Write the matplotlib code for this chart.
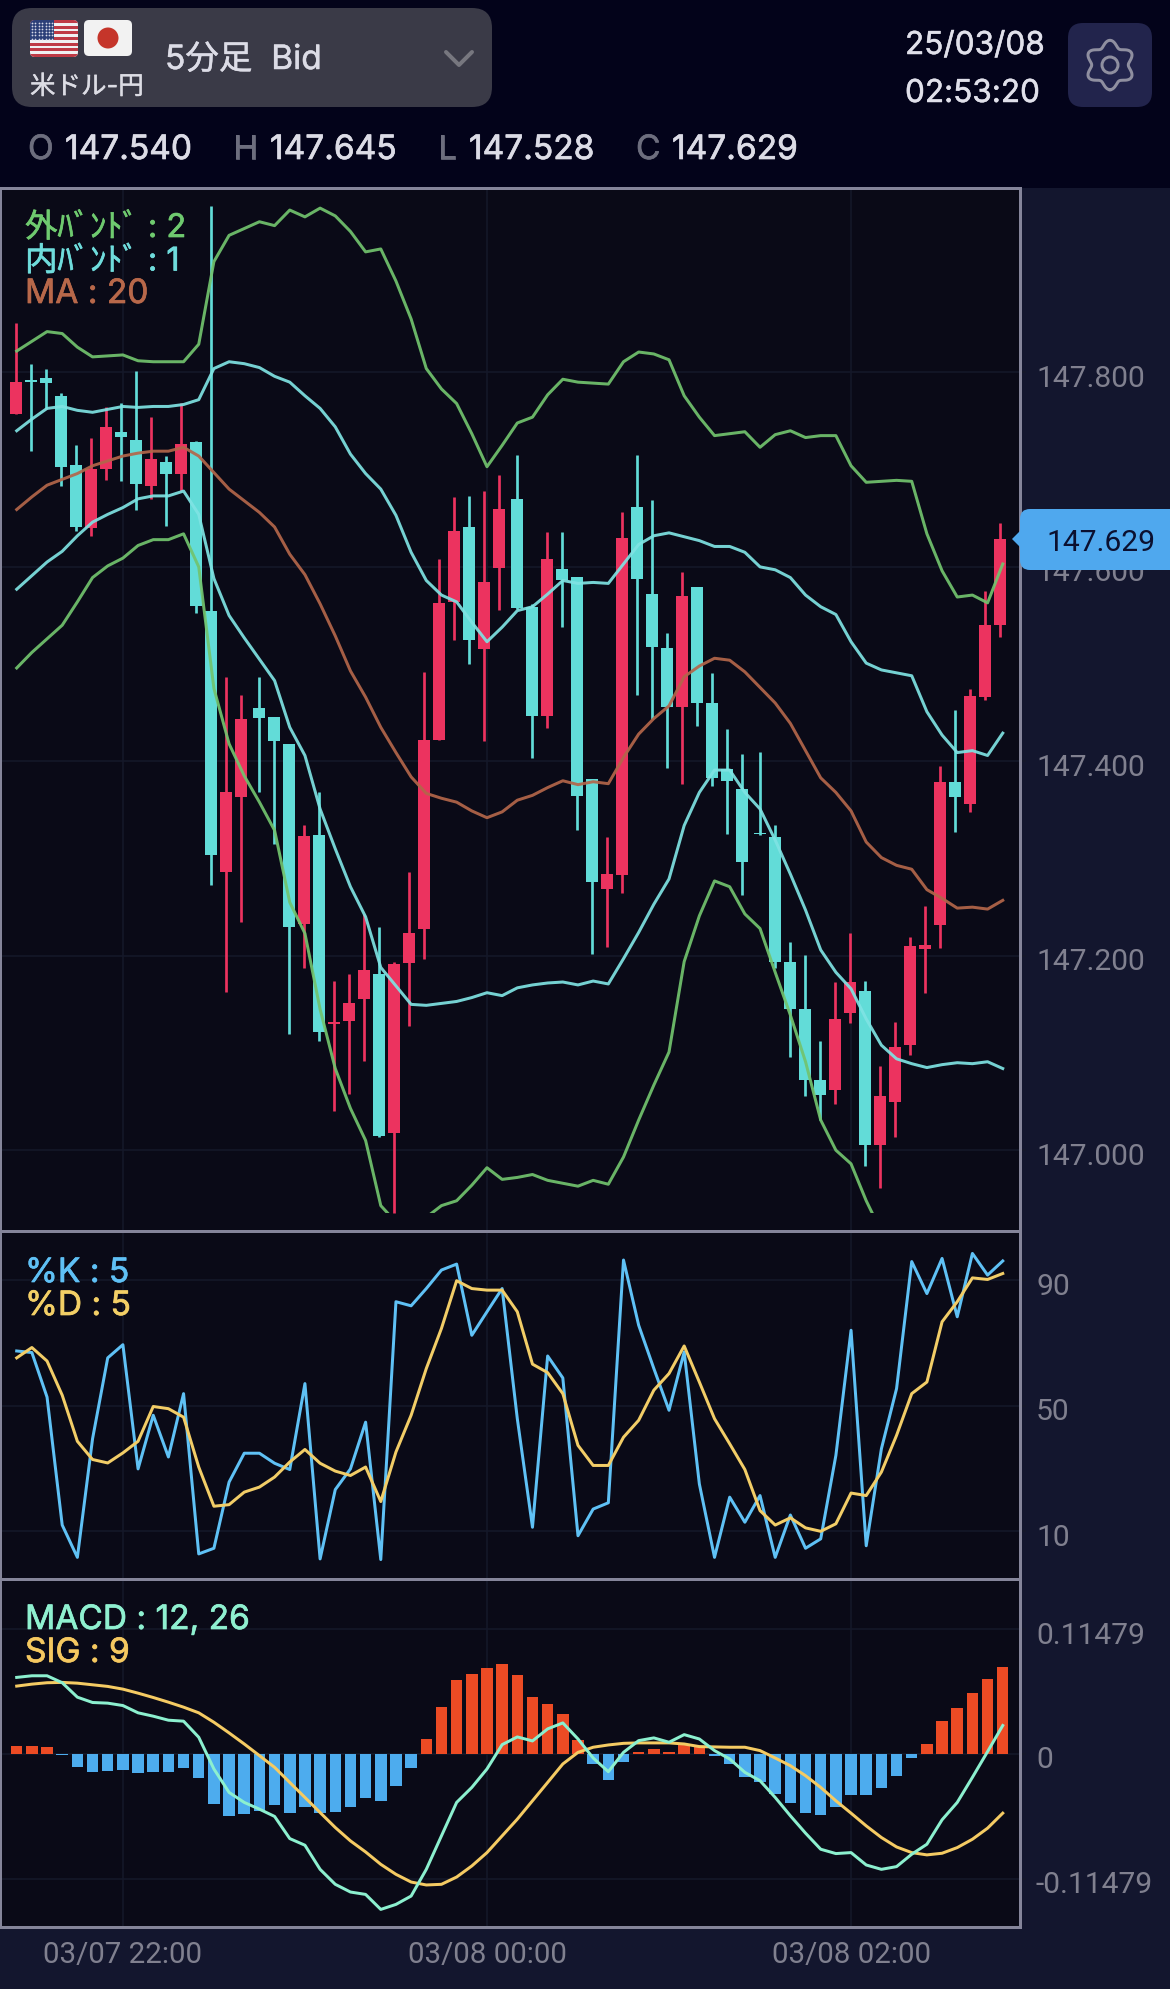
"""
plot.py

USD/JPY 5 minute chart: candles with Bollinger bands, stochastics and MACD.
"""

import numpy as np
import matplotlib
matplotlib.use("Agg")
import matplotlib.pyplot as plt
import matplotlib.patheffects as pe
from matplotlib.patches import Circle, FancyBboxPatch, Polygon, Rectangle
from matplotlib.transforms import ScaledTranslation

opens = [
    147.757, 147.792, 147.794, 147.776, 147.705, 147.640, 147.701, 147.739, 147.731, 147.683, 147.708,
    147.696, 147.728, 147.555, 147.286, 147.363, 147.455, 147.446, 147.418, 147.233, 147.324, 147.130,
    147.133, 147.156, 147.181, 147.018, 147.193, 147.228, 147.422, 147.564, 147.641, 147.516, 147.599,
    147.670, 147.559, 147.447, 147.598, 147.590, 147.382, 147.269, 147.283, 147.662, 147.572, 147.517,
    147.456, 147.579, 147.460, 147.392, 147.372, 147.326, 147.322, 147.194, 147.145, 147.072, 147.062,
    147.141, 147.164, 147.005, 147.050, 147.108, 147.207, 147.232, 147.379, 147.356, 147.466, 147.540,
]
highs = [
    147.851, 147.809, 147.804, 147.779, 147.725, 147.733, 147.764, 147.769, 147.801, 147.754, 147.714,
    147.769, 147.729, 147.971, 147.487, 147.468, 147.487, 147.446, 147.418, 147.334, 147.368, 147.174,
    147.181, 147.243, 147.230, 147.194, 147.286, 147.492, 147.608, 147.672, 147.673, 147.678, 147.694,
    147.715, 147.562, 147.636, 147.636, 147.590, 147.382, 147.322, 147.656, 147.715, 147.669, 147.532,
    147.595, 147.579, 147.491, 147.433, 147.408, 147.410, 147.334, 147.214, 147.201, 147.112, 147.173,
    147.223, 147.174, 147.087, 147.132, 147.219, 147.251, 147.395, 147.453, 147.474, 147.575, 147.645,
]
lows = [
    147.757, 147.719, 147.762, 147.683, 147.637, 147.632, 147.689, 147.688, 147.658, 147.670, 147.642,
    147.678, 147.553, 147.273, 147.163, 147.235, 147.368, 147.315, 147.120, 147.187, 147.112, 147.040,
    147.058, 147.092, 147.014, 146.935, 147.128, 147.197, 147.422, 147.525, 147.500, 147.421, 147.556,
    147.557, 147.403, 147.434, 147.538, 147.329, 147.202, 147.209, 147.265, 147.468, 147.444, 147.393,
    147.377, 147.436, 147.375, 147.325, 147.262, 147.324, 147.187, 147.096, 147.056, 147.031, 147.048,
    147.131, 146.984, 146.961, 147.014, 147.098, 147.162, 147.208, 147.327, 147.348, 147.463, 147.528,
]
closes = [
    147.790, 147.790, 147.789, 147.703, 147.641, 147.701, 147.744, 147.734, 147.685, 147.711, 147.696,
    147.726, 147.560, 147.304, 147.368, 147.444, 147.445, 147.421, 147.230, 147.323, 147.122, 147.132,
    147.151, 147.185, 147.015, 147.192, 147.223, 147.422, 147.563, 147.637, 147.525, 147.584, 147.660,
    147.558, 147.447, 147.608, 147.586, 147.364, 147.276, 147.284, 147.630, 147.588, 147.518, 147.456,
    147.570, 147.460, 147.383, 147.380, 147.296, 147.325, 147.194, 147.145, 147.072, 147.057, 147.135,
    147.173, 147.005, 147.056, 147.106, 147.210, 147.211, 147.379, 147.363, 147.467, 147.540, 147.629,
]

ma_20 = [
    147.659, 147.672, 147.684, 147.690, 147.696, 147.704, 147.709, 147.714, 147.717, 147.719, 147.719,
    147.723, 147.714, 147.697, 147.680, 147.668, 147.656, 147.641, 147.613, 147.592, 147.562, 147.529,
    147.493, 147.466, 147.435, 147.409, 147.384, 147.367, 147.362, 147.358, 147.349, 147.342, 147.348,
    147.360, 147.365, 147.373, 147.380, 147.376, 147.379, 147.377, 147.404, 147.428, 147.444, 147.457,
    147.487, 147.498, 147.506, 147.504, 147.492, 147.476, 147.460, 147.439, 147.411, 147.383, 147.368,
    147.349, 147.317, 147.301, 147.293, 147.289, 147.268, 147.259, 147.249, 147.250, 147.248, 147.257,
]
inner_upper = [
    147.740, 147.752, 147.763, 147.765, 147.761, 147.759, 147.762, 147.765, 147.764, 147.765, 147.765,
    147.767, 147.772, 147.804, 147.811, 147.809, 147.805, 147.796, 147.790, 147.776, 147.763, 147.744,
    147.716, 147.696, 147.680, 147.653, 147.615, 147.586, 147.571, 147.564, 147.543, 147.523, 147.538,
    147.555, 147.559, 147.572, 147.586, 147.583, 147.584, 147.583, 147.603, 147.623, 147.632, 147.635,
    147.631, 147.627, 147.621, 147.621, 147.615, 147.600, 147.597, 147.589, 147.571, 147.559, 147.551,
    147.523, 147.501, 147.494, 147.491, 147.488, 147.451, 147.427, 147.409, 147.411, 147.406, 147.429,
]
inner_lower = [
    147.577, 147.591, 147.605, 147.616, 147.632, 147.646, 147.654, 147.661, 147.670, 147.673, 147.673,
    147.678, 147.654, 147.588, 147.550, 147.527, 147.505, 147.483, 147.435, 147.406, 147.351, 147.310,
    147.271, 147.240, 147.188, 147.169, 147.150, 147.149, 147.151, 147.153, 147.157, 147.162, 147.159,
    147.167, 147.170, 147.172, 147.173, 147.170, 147.174, 147.171, 147.197, 147.224, 147.253, 147.279,
    147.334, 147.368, 147.391, 147.391, 147.368, 147.351, 147.319, 147.284, 147.247, 147.206, 147.183,
    147.166, 147.135, 147.108, 147.094, 147.089, 147.085, 147.088, 147.090, 147.089, 147.091, 147.084,
]
outer_upper = [
    147.822, 147.832, 147.842, 147.840, 147.826, 147.816, 147.817, 147.818, 147.812, 147.811, 147.811,
    147.811, 147.829, 147.914, 147.941, 147.948, 147.955, 147.951, 147.967, 147.960, 147.969, 147.961,
    147.945, 147.924, 147.927, 147.894, 147.855, 147.804, 147.783, 147.768, 147.737, 147.703, 147.725,
    147.748, 147.754, 147.777, 147.793, 147.790, 147.789, 147.788, 147.811, 147.821, 147.819, 147.813,
    147.776, 147.754, 147.735, 147.737, 147.739, 147.723, 147.736, 147.740, 147.733, 147.735, 147.735,
    147.704, 147.687, 147.688, 147.689, 147.688, 147.634, 147.596, 147.569, 147.571, 147.563, 147.603,
]
# runs off the bottom of the chart after the 58th bar
outer_lower = [
    147.496, 147.512, 147.526, 147.540, 147.564, 147.589, 147.601, 147.609, 147.622, 147.628, 147.628,
    147.634, 147.600, 147.475, 147.418, 147.385, 147.358, 147.329, 147.255, 147.223, 147.145, 147.084,
    147.043, 147.010, 146.943, 146.926, 146.921, 146.931, 146.943, 146.948, 146.964, 146.982, 146.970,
    146.972, 146.975, 146.969, 146.966, 146.963, 146.969, 146.965, 146.993, 147.031, 147.067, 147.101,
    147.194, 147.241, 147.277, 147.271, 147.243, 147.228, 147.183, 147.139, 147.091, 147.031, 147.000,
    146.986, 146.948, 146.916,
]

stoch_k = [
    67.4, 66.9, 52.7, 11.9, 1.6, 39.4, 65.2, 69.4, 29.8, 46.9, 33.6,
    53.8, 2.7, 4.5, 25.6, 34.8, 34.8, 31.6, 29.6, 57.0, 1.1, 23.2,
    29.8, 44.7, 0.9, 83.1, 81.8, 87.3, 93.2, 95.1, 72.4, 79.9, 87.3,
    45.8, 11.2, 65.8, 58.8, 8.5, 17.0, 19.0, 96.4, 75.6, 61.8, 48.5,
    67.1, 25.0, 1.6, 20.8, 12.8, 21.3, 1.6, 15.1, 4.5, 7.5, 34.1,
    74.0, 5.3, 36.2, 55.4, 95.9, 85.7, 96.9, 78.3, 98.5, 91.6, 96.1,
]
stoch_d = [
    65.2, 68.5, 64.2, 53.3, 38.6, 32.8, 31.7, 34.9, 38.6, 49.7, 49.0,
    46.3, 30.4, 17.9, 18.4, 22.4, 24.0, 27.2, 32.0, 36.0, 31.6, 29.1,
    27.7, 30.4, 19.4, 35.2, 46.9, 61.8, 74.6, 89.8, 87.3, 86.8, 86.8,
    79.9, 63.2, 60.5, 53.8, 37.3, 30.9, 30.9, 39.9, 45.3, 54.9, 60.2,
    69.0, 57.5, 45.8, 37.8, 29.6, 16.5, 11.9, 14.2, 11.0, 9.9, 12.3,
    22.1, 21.3, 28.8, 40.5, 53.8, 57.5, 76.7, 83.1, 90.7, 90.2, 92.1,
]

macd_line = [
    0.0705, 0.0720, 0.0720, 0.0656, 0.0523, 0.0474, 0.0468, 0.0446, 0.0379, 0.0348, 0.0311,
    0.0302, 0.0154, -0.0138, -0.0354, -0.0446, -0.0508, -0.0575, -0.0779, -0.0840, -0.1062, -0.1200,
    -0.1271, -0.1293, -0.1431, -0.1385, -0.1308, -0.1062, -0.0754, -0.0446, -0.0308, -0.0138, 0.0086,
    0.0157, 0.0120, 0.0231, 0.0286, 0.0138, -0.0037, -0.0163, 0.0015, 0.0123, 0.0148, 0.0108,
    0.0178, 0.0138, 0.0031, -0.0046, -0.0169, -0.0246, -0.0400, -0.0569, -0.0729, -0.0877, -0.0917,
    -0.0908, -0.1022, -0.1062, -0.1037, -0.0923, -0.0831, -0.0606, -0.0446, -0.0215, 0.0022, 0.0262,
]
macd_signal = [
    0.0625, 0.0643, 0.0656, 0.0659, 0.0652, 0.0637, 0.0622, 0.0597, 0.0560, 0.0520, 0.0477,
    0.0431, 0.0379, 0.0292, 0.0194, 0.0092, -0.0015, -0.0123, -0.0262, -0.0400, -0.0539, -0.0677,
    -0.0800, -0.0902, -0.1016, -0.1108, -0.1179, -0.1206, -0.1200, -0.1133, -0.1031, -0.0908, -0.0754,
    -0.0600, -0.0431, -0.0262, -0.0092, 0.0015, 0.0062, 0.0083, 0.0098, 0.0102, 0.0102, 0.0102,
    0.0092, 0.0068, 0.0065, 0.0062, 0.0062, 0.0031, -0.0037, -0.0108, -0.0200, -0.0308, -0.0431,
    -0.0545, -0.0662, -0.0769, -0.0856, -0.0908, -0.0929, -0.0914, -0.0862, -0.0785, -0.0683, -0.0545,
]
macd_hist = [
    0.0077, 0.0077, 0.0062, -0.0009, -0.0123, -0.0163, -0.0154, -0.0151, -0.0178, -0.0169, -0.0163,
    -0.0129, -0.0222, -0.0465, -0.0569, -0.0557, -0.0523, -0.0471, -0.0545, -0.0486, -0.0539, -0.0532,
    -0.0492, -0.0409, -0.0437, -0.0292, -0.0132, 0.0138, 0.0437, 0.0683, 0.0739, 0.0788, 0.0831,
    0.0729, 0.0529, 0.0459, 0.0369, 0.0132, -0.0092, -0.0237, -0.0077, 0.0022, 0.0046, 0.0015,
    0.0083, 0.0068, -0.0015, -0.0095, -0.0215, -0.0262, -0.0369, -0.0452, -0.0539, -0.0563, -0.0486,
    -0.0375, -0.0382, -0.0317, -0.0206, -0.0034, 0.0095, 0.0302, 0.0422, 0.0563, 0.0692, 0.0803,
]

price_ticks = [147.0, 147.2, 147.4, 147.6, 147.8]
stoch_ticks = [10, 50, 90]
macd_ticks = [-0.11479, 0, 0.11479]
macd_tick_labels = ["-0.11479", "0", "0.11479"]
time_ticks = [7, 31, 55]
time_labels = ["03/07 22:00", "03/08 00:00", "03/08 02:00"]
last_price = 147.629

W, H = 1170, 1990
BG_TOP = "#03031a"
BG_STRIP = "#13162e"
BG_PANEL = "#0a0a17"
GRID = "#151829"
BORDER = "#85859a"
AXIS_TEXT = "#80808f"
UP = "#ec335f"
DOWN = "#62dcd8"

LATIN = ["Inter", "Noto Sans CJK JP"]
px = 0.72  # font size / line width per pixel at dpi 100
LINE_W = 3 * px


def heavy(color, width=0.7):
    # the installed fonts run lighter than the reference, so thicken the glyphs a bit
    return [pe.withStroke(linewidth=width * px, foreground=color)]


def panel(top, bottom, ylim):
    ax = fig.add_axes([0, 1 - bottom / H, 1020 / W, (bottom - top) / H], zorder=1)
    ax.set_facecolor(BG_PANEL)
    # bar i sits at 16.7 + 15.17 * i pixels
    ax.set_xlim(-16.7 / 15.17, (1020 - 16.7) / 15.17)
    ax.set_ylim(*ylim)
    ax.yaxis.tick_right()
    ax.grid(True, color=GRID, linewidth=1.6 * px)
    ax.set_axisbelow(True)
    ax.set_xticks(time_ticks)
    ax.tick_params(axis="x", length=0, labelbottom=False)
    ax.tick_params(axis="y", length=6 * px, width=1.5 * px, color=GRID, labelcolor=AXIS_TEXT,
                   labelsize=30 * px, pad=10 * px, labelfontfamily="Roboto")
    for spine in ax.spines.values():
        spine.set_color(BORDER)
        spine.set_linewidth(3 * px)
    return ax


def shift_labels(ax):
    # axis labels sit a little under their grid lines
    offset = ScaledTranslation(0, -2.5 / 100, fig.dpi_scale_trans)
    for label in ax.get_yticklabels():
        label.set_transform(label.get_transform() + offset)


def candle_offset(i):
    # candles snap to whole points, so they drift off the line vertices a little
    jumps = np.floor((i + 0.5) / 16.5)
    return (16.33 + 15 * i + 3 * jumps - 16.7) / 15.17 - i


def plot_candles(ax):
    for i in range(len(opens)):
        color = UP if closes[i] >= opens[i] else DOWN
        x = i + candle_offset(i)
        ax.vlines(x, lows[i], highs[i], color=color, linewidth=2.7 * px, zorder=2)
        ax.bar(x, abs(closes[i] - opens[i]), bottom=min(opens[i], closes[i]), width=11.7 / 15.17,
               color=color, linewidth=0, zorder=2)


def rounded(x0, y0, x1, y1, r, color, z=1):
    patch = FancyBboxPatch((x0 + r, y0 + r), x1 - x0 - 2 * r, y1 - y0 - 2 * r,
                           boxstyle=f"round,pad={r},rounding_size={r}",
                           facecolor=color, edgecolor="none", zorder=z)
    chrome.add_patch(patch)
    return patch


def draw_header():
    chrome.add_patch(Rectangle((0, 0), W, 189, color=BG_TOP, linewidth=0))
    chrome.add_patch(Rectangle((1020, 189), 150, H - 189, color=BG_STRIP, linewidth=0))
    chrome.add_patch(Rectangle((0, 1928), W, H - 1928, color=BG_STRIP, linewidth=0))

    rounded(12, 9, 492, 108, 20, "#3a3a47")

    # US flag
    flag = rounded(30, 21, 78, 58, 5, "#f0f0f2", z=2)
    for k in range(7):
        y = 21 + k * 37 / 6.5
        stripe = Rectangle((30, y), 48, 37 / 13, color="#bf3a46", linewidth=0, zorder=3)
        chrome.add_patch(stripe)
        stripe.set_clip_path(flag)
    canton = Rectangle((30, 21), 24, 19.5, color="#2c3f78", linewidth=0, zorder=4)
    chrome.add_patch(canton)
    canton.set_clip_path(flag)
    sx, sy = np.meshgrid(np.arange(32, 54, 3.4), np.arange(23.5, 40, 3.2))
    chrome.scatter(sx, sy, s=1.6, color="#d5d8e8", linewidths=0, zorder=5)

    # Japanese flag
    rounded(84, 21, 132, 57, 5, "#f2f2f2", z=2)
    chrome.add_patch(Circle((108, 39), 10.5, color="#c5352a", linewidth=0, zorder=3))

    chrome.text(30, 95, "米ドル-円", color="#dcdce4", fontsize=25.5 * px, va="baseline", family=LATIN,
                path_effects=heavy("#dcdce4", 0.4))
    chrome.text(165, 70, "5分足  Bid", color="#dcdce6", fontsize=33.5 * px, va="baseline", family=LATIN,
                path_effects=heavy("#dcdce6", 0.5))
    chrome.plot([446, 459, 472], [53, 66, 53], color="#77777f", linewidth=4 * px, solid_capstyle="round")

    chrome.text(905, 55, "25/03/08", color="#e0e0ea", fontsize=31.5 * px, va="baseline", family=LATIN,
                path_effects=heavy("#e0e0ea", 0.5))
    chrome.text(905, 103, "02:53:20", color="#e0e0ea", fontsize=31.5 * px, va="baseline", family=LATIN,
                path_effects=heavy("#e0e0ea", 0.5))

    # settings button
    rounded(1068, 24, 1152, 108, 15, "#22244c")
    theta = np.linspace(0, 2 * np.pi, 241)
    radius = 21.5 + 3.2 * np.cos(6 * theta)
    chrome.plot(1110 + radius * np.sin(theta), 66 + radius * np.cos(theta), color="#8f8fa0", linewidth=3 * px)
    chrome.add_patch(Circle((1110, 66), 8, facecolor="none", edgecolor="#8f8fa0", linewidth=3 * px))

    ohlc = [("O", 28, "147.540", 65), ("H", 233, "147.645", 270), ("L", 438, "147.528", 469), ("C", 636, "147.629", 672)]
    for letter, x_letter, value, x_value in ohlc:
        chrome.text(x_letter, 160, letter, color="#6d6e7e", fontsize=33.5 * px, va="baseline", family=LATIN,
                    path_effects=heavy("#6d6e7e"))
        chrome.text(x_value, 160, value, color="#dcdce6", fontsize=33.5 * px, va="baseline", family=LATIN,
                    path_effects=heavy("#dcdce6"))


def legend(rows):
    for y, label, size, color in rows:
        front.text(25, y, label, color=color, fontsize=size * px, va="baseline", family=LATIN,
                   path_effects=heavy(color))


fig = plt.figure(figsize=(W / 100, H / 100), dpi=100, facecolor=BG_TOP)

chrome = fig.add_axes([0, 0, 1, 1], zorder=0)
chrome.set_xlim(0, W)
chrome.set_ylim(H, 0)
chrome.axis("off")
draw_header()

front = fig.add_axes([0, 0, 1, 1], zorder=5)
front.set_xlim(0, W)
front.set_ylim(H, 0)
front.axis("off")

x = np.arange(len(closes))

# Price panel
ax_price = panel(189, 1232, (146.9169, 147.9897))
ax_price.set_yticks(price_ticks)
ax_price.set_yticklabels([f"{v:.3f}" for v in price_ticks])
shift_labels(ax_price)
plot_candles(ax_price)

band_clip = Rectangle((-2, min(lows)), 70, 1.2, transform=ax_price.transData)
band_style = dict(linewidth=LINE_W, zorder=3, alpha=0.92, solid_joinstyle="round")
ax_price.plot(x, inner_upper, color="#7fe3e3", **band_style)
ax_price.plot(x, inner_lower, color="#7fe3e3", **band_style)
ax_price.plot(x, ma_20, color="#b3664a", **band_style)
ax_price.plot(x, outer_upper, color="#72c46e", **band_style)
line, = ax_price.plot(x[:len(outer_lower)], outer_lower, color="#72c46e", **band_style)
line.set_clip_path(band_clip)

# Stochastics panel
ax_stoch = panel(1232, 1580, (-5.3, 105.65))
ax_stoch.set_yticks(stoch_ticks)
shift_labels(ax_stoch)
ax_stoch.plot(x, stoch_k, color="#5fc1f5", linewidth=LINE_W, zorder=3)
ax_stoch.plot(x, stoch_d, color="#f2cd67", linewidth=LINE_W, zorder=3)

# MACD panel
ax_macd = panel(1580, 1928, (-0.1593, 0.1611))
ax_macd.set_yticks(macd_ticks)
ax_macd.set_yticklabels(macd_tick_labels)
shift_labels(ax_macd)
hist = np.array(macd_hist)
ax_macd.bar(x, hist, width=11.5 / 15.17, color=np.where(hist >= 0, "#ec4b24", "#4dacee"), linewidth=0, zorder=2)
ax_macd.plot(x, macd_signal, color="#f5cb63", linewidth=LINE_W, zorder=3)
ax_macd.plot(x, macd_line, color="#8cf0cf", linewidth=LINE_W, zorder=3)
ax_macd.tick_params(axis="x", labelbottom=True, labelcolor=AXIS_TEXT, labelsize=29.5 * px, pad=13 * px,
                    labelfontfamily="Roboto")
ax_macd.set_xticklabels(time_labels)

legend([
    (238, "外ﾊﾞﾝﾄﾞ : 2", 32.5, "#6fca6f"),
    (271.5, "内ﾊﾞﾝﾄﾞ : 1", 32.5, "#6fdcdc"),
    (304, "MA : 20", 33.5, "#b8684a"),
    (1283, "%K : 5", 33.5, "#5fc0f5"),
    (1316, "%D : 5", 33.5, "#f3cf66"),
    (1630, "MACD : 12, 26", 33.5, "#8ff0d0"),
    (1663, "SIG : 9", 33.5, "#f5c860"),
])

# Last price tag on top of the axis labels
front.add_patch(Polygon([[1012, 540], [1022, 530], [1022, 550]], color="#4fa8ee", linewidth=0))
front.add_patch(FancyBboxPatch((1030, 520), 160, 41, boxstyle="round,pad=10,rounding_size=10",
                               facecolor="#4fa8ee", edgecolor="none"))
front.set_xlim(0, W)
front.text(1101, 543, f"{last_price:.3f}", color="#0b1030", fontsize=30 * px, ha="center", va="center",
           family="Roboto")

fig.savefig("out.png", dpi=100, facecolor=fig.get_facecolor())
plt.close(fig)
